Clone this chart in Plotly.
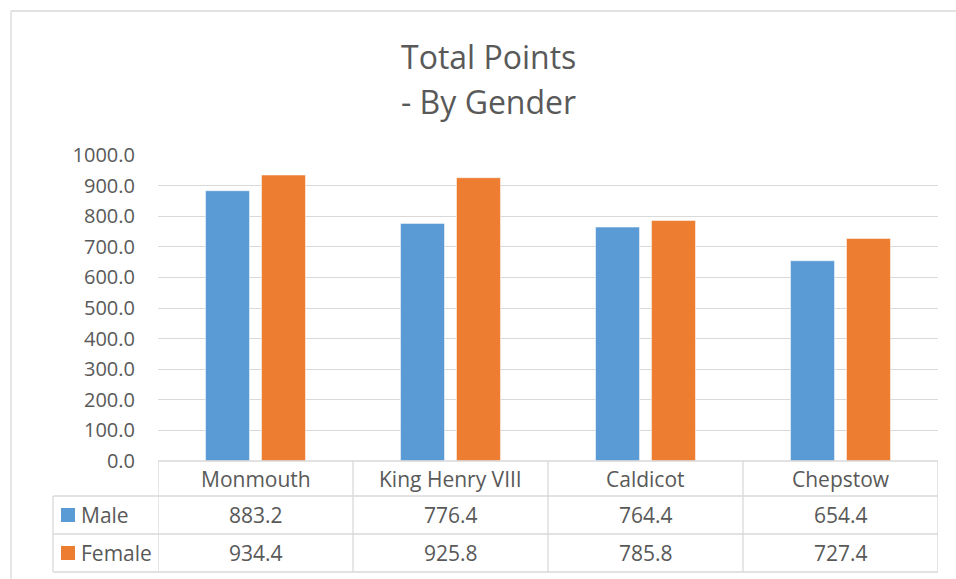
import plotly.graph_objects as go

categories = ["Monmouth", "King Henry VIII", "Caldicot", "Chepstow"]
series_names = ["Male", "Female"]
male = [883.2, 776.4, 764.4, 654.4]
female = [934.4, 925.8, 785.8, 727.4]
colors = ["#5B9BD5", "#ED7D31"]
tick_vals = [0, 100, 200, 300, 400, 500, 600, 700, 800, 900, 1000]
tick_text = [f"{v:.1f}" for v in tick_vals]

W, H = 956, 579
FONT = "Open Sans"
TXT = "#595959"
GRID = "#d9d9d9"

def px_x(x):
    return x / W

def px_y(y):
    return 1 - y / H

fig = go.Figure()
for name, vals, col in zip(series_names, [male, female], colors):
    fig.add_trace(go.Bar(x=categories, y=vals, name=name, marker_color=col,
                         marker_line_color="white", marker_line_width=0.5,
                         showlegend=False))

x0p, x1p = 158, 938
ytop, ybot = 155, 461
row_y = [461, 496, 534, 572]
left_x = 53

fig.update_layout(
    template="none",
    width=W, height=H,
    margin=dict(l=0, r=0, t=0, b=0, pad=0, autoexpand=False),
    paper_bgcolor="white", plot_bgcolor="white",
    bargap=0.426, bargroupgap=0.214,
    barmode="group",
    font=dict(family=FONT, color=TXT, size=21),
    xaxis=dict(domain=[px_x(x0p), px_x(x1p)], range=[-0.5, 3.5], automargin=False,
               showticklabels=False, showgrid=False, zeroline=False,
               showline=False, ticks=""),
    yaxis=dict(domain=[px_y(ybot), px_y(ytop)], range=[0, 1000], automargin=False,
               tickvals=tick_vals, ticktext=tick_text,
               showgrid=True, gridcolor=GRID, gridwidth=1,
               zeroline=False, showline=False, ticks="",
               ticklabelstandoff=22,
               tickfont=dict(family=FONT, size=20, color=TXT)),
)

shapes = []
line = dict(color=GRID, width=1.3)
# chart border
shapes.append(dict(type="line", xref="paper", yref="paper", x0=px_x(11), x1=1.0,
                   y0=px_y(11), y1=px_y(11), line=line))
shapes.append(dict(type="line", xref="paper", yref="paper", x0=px_x(11), x1=px_x(11),
                   y0=px_y(11), y1=0, line=line))
# table horizontal lines
shapes.append(dict(type="line", xref="x", yref="paper", x0=-0.5, x1=3.5,
                   y0=px_y(row_y[0]), y1=px_y(row_y[0]), line=line))
for ry in row_y[1:]:
    shapes.append(dict(type="line", xref="paper", yref="paper", x0=px_x(left_x), x1=px_x(x1p),
                       y0=px_y(ry), y1=px_y(ry), line=line))
# vertical lines
for i in range(len(categories) + 1):
    shapes.append(dict(type="line", xref="x", yref="paper", x0=i - 0.5, x1=i - 0.5,
                       y0=px_y(row_y[0]), y1=px_y(row_y[-1]), line=line))
shapes.append(dict(type="line", xref="paper", yref="paper", x0=px_x(left_x), x1=px_x(left_x),
                   y0=px_y(row_y[1]), y1=px_y(row_y[-1]), line=line))
# legend keys
for r, col in enumerate(colors):
    cy = (row_y[r + 1] + row_y[r + 2]) / 2
    shapes.append(dict(type="rect", xref="paper", yref="paper",
                       x0=px_x(61), x1=px_x(75), y0=px_y(cy + 7), y1=px_y(cy - 7),
                       fillcolor=col, line=dict(width=0)))

annotations = []
# title
annotations.append(dict(text="Total Points", xref="paper", yref="paper", x=px_x(488), y=px_y(56),
                        showarrow=False, font=dict(family=FONT, size=32, color=TXT),
                        xanchor="center", yanchor="middle"))
annotations.append(dict(text="- By Gender", xref="paper", yref="paper", x=px_x(488), y=px_y(101),
                        showarrow=False, font=dict(family=FONT, size=32, color=TXT),
                        xanchor="center", yanchor="middle"))
# header
hy = (row_y[0] + row_y[1]) / 2
for c in categories:
    annotations.append(dict(text=c, xref="x", yref="paper", x=c, y=px_y(hy), showarrow=False,
                            xanchor="center", yanchor="middle",
                            font=dict(family=FONT, size=21, color=TXT)))
for r, (name, vals) in enumerate(zip(series_names, [male, female])):
    cy = (row_y[r + 1] + row_y[r + 2]) / 2
    annotations.append(dict(text=name, xref="paper", yref="paper", x=px_x(79), y=px_y(cy),
                            showarrow=False, xanchor="left", yanchor="middle",
                            font=dict(family=FONT, size=21, color=TXT)))
    for c, v in zip(categories, vals):
        annotations.append(dict(text=f"{v:.1f}", xref="x", yref="paper", x=c, y=px_y(cy),
                                showarrow=False, xanchor="center", yanchor="middle",
                                font=dict(family=FONT, size=21, color=TXT)))

fig.update_layout(shapes=shapes, annotations=annotations)
fig.write_html("out.html", config={"displayModeBar": False},
               post_script="document.body.style.margin='0';document.body.style.overflow='hidden';")
